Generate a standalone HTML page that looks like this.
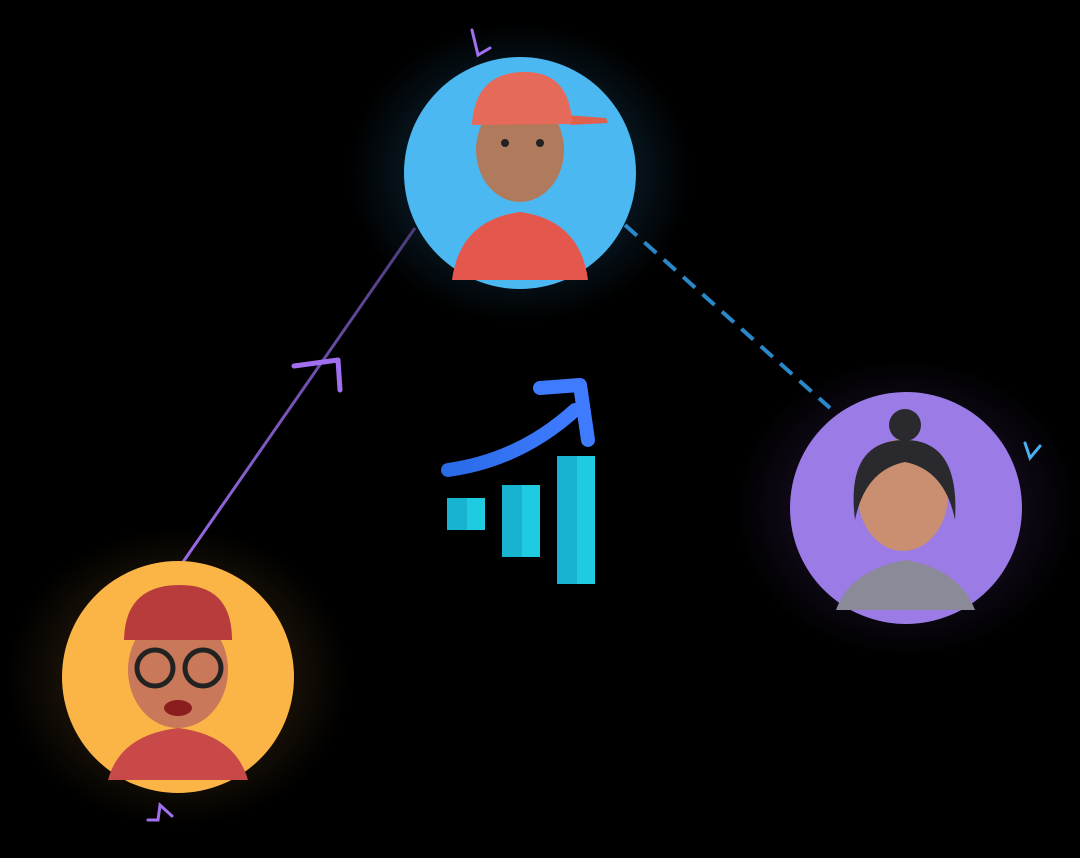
<!DOCTYPE html>
<html><head><style>
html,body{margin:0;padding:0;background:#000;width:1080px;height:858px;overflow:hidden}
</style></head><body>
<svg width="1080" height="858" viewBox="0 0 1080 858" xmlns="http://www.w3.org/2000/svg">
<defs>
<radialGradient id="g1" cx="50%" cy="50%" r="50%"><stop offset="0.7" stop-color="#06121a"/><stop offset="1" stop-color="#000"/></radialGradient>
<radialGradient id="g2" cx="50%" cy="50%" r="50%"><stop offset="0.7" stop-color="#0d0814"/><stop offset="1" stop-color="#000"/></radialGradient>
<radialGradient id="g3" cx="50%" cy="50%" r="50%"><stop offset="0.7" stop-color="#140e06"/><stop offset="1" stop-color="#000"/></radialGradient>
<linearGradient id="arr" x1="0" x2="1"><stop offset="0" stop-color="#2a6be8"/><stop offset="1" stop-color="#3f7bff"/></linearGradient>
<linearGradient id="pl" x1="0" y1="1" x2="0" y2="0"><stop offset="0" stop-color="#9a6ae8"/><stop offset="1" stop-color="#4a3a7a"/></linearGradient>
</defs>
<ellipse cx="520" cy="173" rx="172" ry="150" fill="url(#g1)"/>
<ellipse cx="906" cy="508" rx="172" ry="150" fill="url(#g2)"/>
<ellipse cx="178" cy="677" rx="172" ry="150" fill="url(#g3)"/>
<!-- connectors -->
<line x1="183" y1="562" x2="415" y2="228" stroke="url(#pl)" stroke-width="3"/>
<path d="M294 366 L338 360 L340 390" fill="none" stroke="#a070f0" stroke-width="5" stroke-linecap="round" stroke-linejoin="round"/>
<line x1="625" y1="225" x2="830" y2="408" stroke="#2a88c8" stroke-width="4" stroke-dasharray="16 10"/>
<!-- blue circle -->
<circle cx="520" cy="173" r="116" fill="#4cb8f2"/>
<path d="M452 280 Q460 220 520 212 Q580 220 588 280 Z" fill="#e4574c"/>
<ellipse cx="520" cy="150" rx="44" ry="52" fill="#b07a5c"/>
<path d="M472 125 Q475 72 525 72 Q570 72 570 125 L608 123 L606 118 L565 115 Z" fill="#e06050"/>
<path d="M472 125 Q475 72 525 72 Q570 72 572 124 Z" fill="#e66a5a"/>
<circle cx="505" cy="143" r="4" fill="#222"/><circle cx="540" cy="143" r="4" fill="#222"/>
<!-- purple circle -->
<circle cx="906" cy="508" r="116" fill="#9b7be6"/>
<path d="M836 610 Q850 570 906 560 Q960 570 975 610 Z" fill="#8a8a98"/>
<ellipse cx="903" cy="495" rx="45" ry="56" fill="#c98f70"/>
<path d="M855 520 Q845 440 905 440 Q960 440 955 520 Q945 470 905 462 Q865 470 855 520 Z" fill="#2a2a2e"/>
<circle cx="905" cy="425" r="16" fill="#2a2a2e"/>
<!-- orange circle -->
<circle cx="178" cy="677" r="116" fill="#fbb547"/>
<path d="M108 780 Q120 735 178 728 Q235 735 248 780 Z" fill="#c94848"/>
<ellipse cx="178" cy="670" rx="50" ry="58" fill="#c9785a"/>
<path d="M124 640 Q125 585 180 585 Q232 585 232 640 Z" fill="#b83c3c"/>
<circle cx="155" cy="668" r="18" fill="none" stroke="#222" stroke-width="5"/>
<circle cx="203" cy="668" r="18" fill="none" stroke="#222" stroke-width="5"/>
<ellipse cx="178" cy="708" rx="14" ry="8" fill="#8a1e1e"/>
<!-- chart -->
<path d="M448 470 Q520 460 575 410" fill="none" stroke="url(#arr)" stroke-width="14" stroke-linecap="round"/>
<path d="M540 388 L580 385 L588 440" fill="none" stroke="#3f7bff" stroke-width="14" stroke-linecap="round" stroke-linejoin="round"/>
<rect x="447" y="498" width="38" height="32" fill="#1ecbe0"/>
<rect x="502" y="485" width="38" height="72" fill="#1ecbe0"/>
<rect x="557" y="456" width="38" height="128" fill="#1ecbe0"/>
<rect x="447" y="498" width="20" height="32" fill="#17b3d0"/>
<rect x="502" y="485" width="20" height="72" fill="#17b3d0"/>
<rect x="557" y="456" width="20" height="128" fill="#17b3d0"/>
<!-- small marks -->
<path d="M472 30 L478 55 L490 48" fill="none" stroke="#a070f0" stroke-width="3" stroke-linecap="round"/>
<path d="M1025 443 L1030 458 L1040 446" fill="none" stroke="#4ab0f0" stroke-width="3" stroke-linecap="round"/>
<path d="M148 820 L158 820 L160 805 L172 816" fill="none" stroke="#a070f0" stroke-width="3" stroke-linecap="round"/>
</svg>
</body></html>
